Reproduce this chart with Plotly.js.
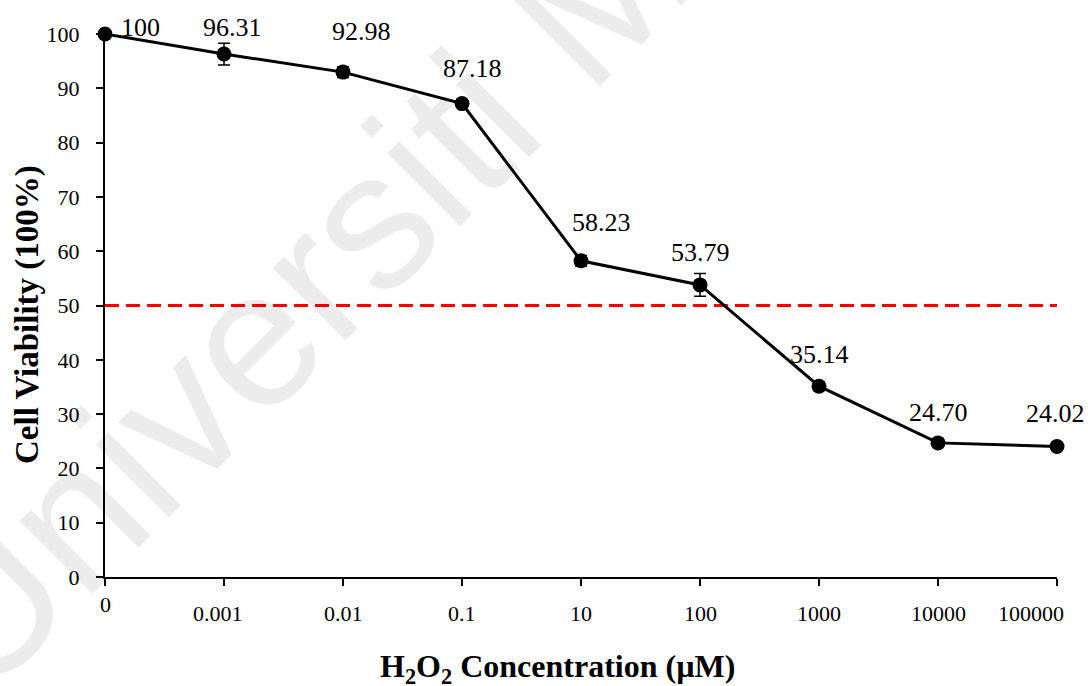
<!DOCTYPE html>
<html>
<head>
<meta charset="utf-8">
<script src="https://cdn.plot.ly/plotly-3.0.1.min.js"></script>
<style>html,body{margin:0;padding:0;background:#fff;}#chart{width:1088px;height:686px;}</style>
</head>
<body>
<div id="chart"></div>
<script>
// Data
const concentrations = ["0", "0.001", "0.01", "0.1", "10", "100", "1000", "10000", "100000"];
const viability = [100, 96.31, 92.98, 87.18, 58.23, 53.79, 35.14, 24.70, 24.02];
const viabilityLabels = ["100", "96.31", "92.98", "87.18", "58.23", "53.79", "35.14", "24.70", "24.02"];
const errorValues = [0, 2.0, 1.0, 0.6, 1.0, 2.1, 0.8, 0.6, 0.4];
const ic50 = 50;
const xTitle = "<b>H<sub>2</sub>O<sub>2</sub> Concentration (µM)</b>";
const yTitle = "<b>Cell Viability (100%)</b>";

// Styling: pixel offsets of the value labels from their points (as placed in the original)
const labelDx = [35, 8, 18, 10, 20, 0, 0, 0, -2];
const labelDy = [7, 27, 41, 35, 38, 32, 32, 30, 33];
// Styling: pixel offsets of the category labels
const tickDx = [0, -6, 0, 0, 0, 0, 0, 0, -26];
const tickDy = [-27, -36, -36, -36, -36, -36, -36, -36, -36];

const serif = "Liberation Serif, Times New Roman, serif";

const traces = [
  {
    x: concentrations, y: viability, type: "scatter", mode: "lines+markers",
    line: {color: "#000000", width: 3},
    marker: {color: "#000000", size: 15},
    error_y: {type: "data", array: errorValues, visible: true, color: "#000000", thickness: 1.5, width: 6},
    showlegend: false, cliponaxis: false
  }
];

const annotations = [{
  text: "Universiti Malaya", xref: "paper", yref: "paper", x: 0.373, y: 0.823,
  xanchor: "center", yanchor: "middle",
  showarrow: false, textangle: -45,
  font: {family: "Liberation Sans, Arial, sans-serif", size: 195, color: "rgba(0,0,0,0.075)"}
}];
viability.forEach((v, i) => {
  annotations.push({
    x: i, y: v, text: viabilityLabels[i], showarrow: false,
    xanchor: "center", yanchor: "middle",
    xshift: labelDx[i], yshift: labelDy[i],
    font: {family: serif, size: 26, color: "#000"}
  });
});
concentrations.forEach((c, i) => {
  annotations.push({
    x: i, xref: "x", y: 0, yref: "paper", text: c, showarrow: false,
    xanchor: "center", yanchor: "middle",
    xshift: tickDx[i], yshift: tickDy[i],
    font: {family: serif, size: 22, color: "#000"}
  });
});
annotations.push({
  text: xTitle, xref: "paper", yref: "paper", x: 0.4748, y: -0.1676,
  xanchor: "center", yanchor: "middle", showarrow: false,
  font: {family: serif, size: 32, color: "#000"}
});
annotations.push({
  text: yTitle, xref: "paper", yref: "paper", x: 0, y: 0.4825, xshift: -78,
  xanchor: "center", yanchor: "middle", showarrow: false, textangle: -90,
  font: {family: serif, size: 33, color: "#000"}
});

const layout = {
  width: 1088, height: 686,
  margin: {l: 105, r: 31, t: 34, b: 109},
  paper_bgcolor: "#ffffff", plot_bgcolor: "rgba(0,0,0,0)",
  font: {family: serif, color: "#000"},
  showlegend: false,
  xaxis: {
    type: "category", categoryorder: "array", categoryarray: concentrations, range: [0, 8],
    showgrid: false, zeroline: false,
    showline: true, linecolor: "#000", linewidth: 2,
    ticks: "outside", ticklen: 7, tickwidth: 2, tickcolor: "#000",
    showticklabels: false
  },
  yaxis: {
    range: [0, 100], dtick: 10, tick0: 0,
    showgrid: false, zeroline: false,
    showline: true, linecolor: "#000", linewidth: 2,
    ticks: "outside", ticklen: 7, tickwidth: 2, tickcolor: "#000",
    tickfont: {family: serif, size: 22, color: "#000"},
    ticklabelstandoff: 12
  },
  shapes: [{
    type: "line", xref: "paper", x0: 0, x1: 1, yref: "y", y0: ic50, y1: ic50,
    layer: "below", line: {color: "#FF0000", width: 3, dash: "14px,7px"}
  }],
  annotations: annotations
};

Plotly.newPlot("chart", traces, layout, {displayModeBar: false, staticPlot: true});
</script>
</body>
</html>
